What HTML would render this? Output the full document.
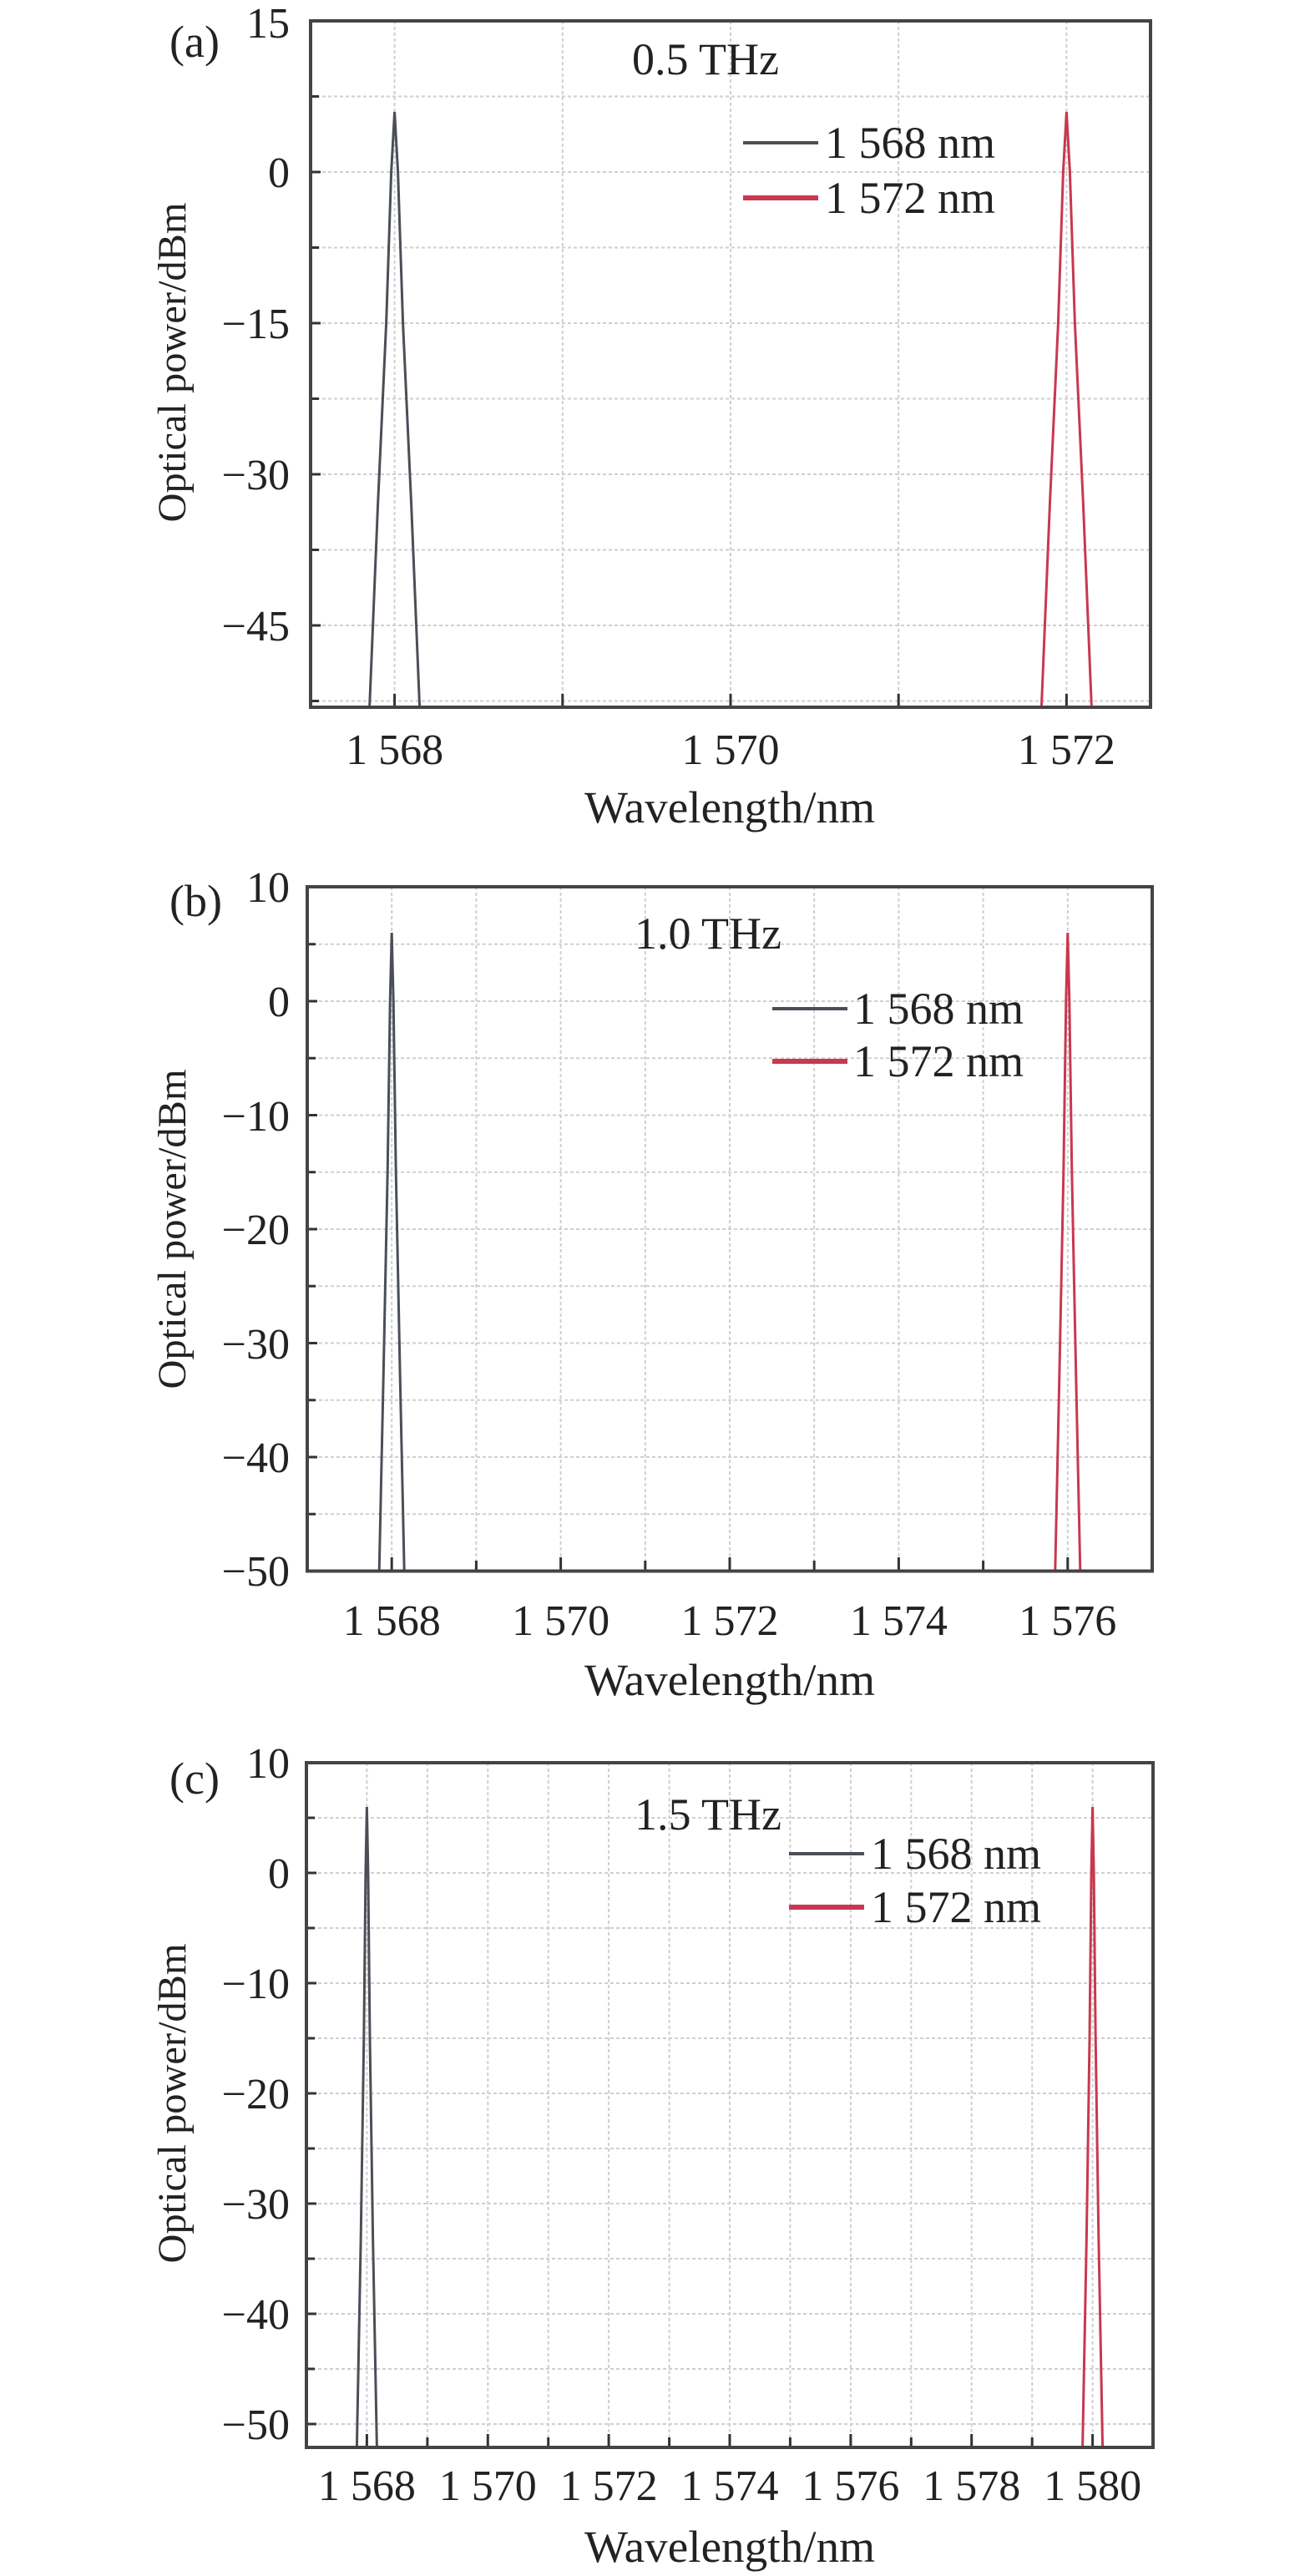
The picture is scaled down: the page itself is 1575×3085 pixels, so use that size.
<!DOCTYPE html>
<html><head><meta charset="utf-8"><style>html,body{margin:0;padding:0;background:#fff}svg{display:block}</style></head>
<body>
<svg width="1575" height="3085" viewBox="0 0 1575 3085" xmlns="http://www.w3.org/2000/svg" font-family="'Liberation Serif', serif" fill="#222">
<!-- ============ PANEL A ============ -->
<g stroke="#cfcfcf" stroke-width="2" stroke-dasharray="4 3" fill="none">
<path d="M472.6 25V847M673.8 25V847M875 25V847M1076.2 25V847M1277.4 25V847"/>
<path d="M372 115.5H1378M372 206H1378M372 296.5H1378M372 387H1378M372 477.5H1378M372 568H1378M372 658.5H1378M372 749H1378M372 839.5H1378"/>
</g>
<g stroke="#333" stroke-width="3" fill="none">
<path d="M472.6 847v-16M673.8 847v-16M875 847v-16M1076.2 847v-16M1277.4 847v-16"/>
<path d="M372 115.5h10M372 206h12M372 296.5h10M372 387h12M372 477.5h10M372 568h12M372 658.5h10M372 749h12M372 839.5h10"/>
</g>
<polyline fill="none" stroke="#4a4f57" stroke-width="3" points="442.6,847 452.6,604 462.6,387 468.6,206 472.6,134 476.6,206 482.6,387 492.6,604 502.6,847"/>
<polyline fill="none" stroke="#c8384f" stroke-width="3" points="1247.4,847 1257.4,604 1267.4,387 1273.4,206 1277.4,134 1281.4,206 1287.4,387 1297.4,604 1307.4,847"/>
<rect x="372" y="25" width="1006" height="822" fill="none" stroke="#444" stroke-width="4"/>
<line x1="890" y1="171" x2="980" y2="171" stroke="#4a4f57" stroke-width="4"/>
<line x1="890" y1="237" x2="980" y2="237" stroke="#c8384f" stroke-width="6"/>
<g font-size="54">
<text x="988" y="189">1 568 nm</text>
<text x="988" y="255">1 572 nm</text>
<text x="757" y="89">0.5 THz</text>
<text x="203" y="68">(a)</text>
</g>
<g font-size="52" text-anchor="end">
<text x="347" y="45">15</text>
<text x="347" y="224">0</text>
<text x="347" y="405">−15</text>
<text x="347" y="586">−30</text>
<text x="347" y="767">−45</text>
</g>
<g font-size="52" text-anchor="middle">
<text x="472.6" y="915">1 568</text>
<text x="875" y="915">1 570</text>
<text x="1277.4" y="915">1 572</text>
</g>
<text x="874" y="985" font-size="54" text-anchor="middle" textLength="348" lengthAdjust="spacingAndGlyphs">Wavelength/nm</text>
<text transform="translate(222,434) rotate(-90)" font-size="48" text-anchor="middle" textLength="383" lengthAdjust="spacingAndGlyphs">Optical power/dBm</text>

<!-- ============ PANEL B ============ -->
<g stroke="#cfcfcf" stroke-width="2" stroke-dasharray="4 3" fill="none">
<path d="M469.2 1062V1881M570.4 1062V1881M671.6 1062V1881M772.8 1062V1881M874 1062V1881M975.2 1062V1881M1076.4 1062V1881M1177.6 1062V1881M1278.8 1062V1881"/>
<path d="M368 1130.75H1380M368 1199H1380M368 1267.25H1380M368 1335.5H1380M368 1403.75H1380M368 1472H1380M368 1540.25H1380M368 1608.5H1380M368 1676.75H1380M368 1745H1380M368 1813.25H1380"/>
</g>
<g stroke="#333" stroke-width="3" fill="none">
<path d="M469.2 1881v-16M570.4 1881v-12M671.6 1881v-16M772.8 1881v-12M874 1881v-16M975.2 1881v-12M1076.4 1881v-16M1177.6 1881v-12M1278.8 1881v-16"/>
<path d="M368 1130.75h10M368 1199h12M368 1267.25h10M368 1335.5h12M368 1403.75h10M368 1472h12M368 1540.25h10M368 1608.5h12M368 1676.75h10M368 1745h12M368 1813.25h10"/>
</g>
<polyline fill="none" stroke="#4a4f57" stroke-width="3" points="454.2,1881.5 459.2,1649.5 464.2,1404 467.2,1199 469.2,1117 471.2,1199 474.2,1404 479.2,1649.5 484.2,1881.5"/>
<polyline fill="none" stroke="#c8384f" stroke-width="3" points="1263.8,1881.5 1268.8,1649.5 1273.8,1404 1276.8,1199 1278.8,1117 1280.8,1199 1283.8,1404 1288.8,1649.5 1293.8,1881.5"/>
<rect x="368" y="1062" width="1012" height="819.5" fill="none" stroke="#444" stroke-width="4"/>
<line x1="925" y1="1208" x2="1015" y2="1208" stroke="#4a4f57" stroke-width="4"/>
<line x1="925" y1="1271" x2="1015" y2="1271" stroke="#c8384f" stroke-width="6"/>
<g font-size="54">
<text x="1022" y="1226">1 568 nm</text>
<text x="1022" y="1289">1 572 nm</text>
<text x="760" y="1136">1.0 THz</text>
<text x="203" y="1097">(b)</text>
</g>
<g font-size="52" text-anchor="end">
<text x="347" y="1080">10</text>
<text x="347" y="1217">0</text>
<text x="347" y="1354">−10</text>
<text x="347" y="1490">−20</text>
<text x="347" y="1627">−30</text>
<text x="347" y="1763">−40</text>
<text x="347" y="1899">−50</text>
</g>
<g font-size="52" text-anchor="middle">
<text x="469.2" y="1958">1 568</text>
<text x="671.6" y="1958">1 570</text>
<text x="874" y="1958">1 572</text>
<text x="1076.4" y="1958">1 574</text>
<text x="1278.8" y="1958">1 576</text>
</g>
<text x="874" y="2030" font-size="54" text-anchor="middle" textLength="348" lengthAdjust="spacingAndGlyphs">Wavelength/nm</text>
<text transform="translate(222,1472) rotate(-90)" font-size="48" text-anchor="middle" textLength="383" lengthAdjust="spacingAndGlyphs">Optical power/dBm</text>

<!-- ============ PANEL C ============ -->
<g stroke="#cfcfcf" stroke-width="2" stroke-dasharray="4 3" fill="none">
<path d="M439.4 2111V2931M511.9 2111V2931M584.3 2111V2931M656.7 2111V2931M729.1 2111V2931M801.6 2111V2931M874 2111V2931M946.4 2111V2931M1018.9 2111V2931M1091.3 2111V2931M1163.7 2111V2931M1236.2 2111V2931M1308.6 2111V2931"/>
<path d="M367 2177H1381M367 2243H1381M367 2309H1381M367 2375H1381M367 2441H1381M367 2507H1381M367 2573H1381M367 2639H1381M367 2705H1381M367 2771H1381M367 2837H1381M367 2903H1381"/>
</g>
<g stroke="#333" stroke-width="3" fill="none">
<path d="M439.4 2931v-16M511.9 2931v-12M584.3 2931v-16M656.7 2931v-12M729.1 2931v-16M801.6 2931v-12M874 2931v-16M946.4 2931v-12M1018.9 2931v-16M1091.3 2931v-12M1163.7 2931v-16M1236.2 2931v-12M1308.6 2931v-16"/>
<path d="M367 2177h10M367 2243h12M367 2309h10M367 2375h12M367 2441h10M367 2507h12M367 2573h10M367 2639h12M367 2705h10M367 2771h12M367 2837h10M367 2903h12"/>
</g>
<polyline fill="none" stroke="#4a4f57" stroke-width="3" points="427.4,2931 432.2,2678.6 435.8,2441 437.9,2243 439.4,2164 440.9,2243 443,2441 446.6,2678.6 451.4,2931"/>
<polyline fill="none" stroke="#c8384f" stroke-width="3" points="1296.6,2931 1301.4,2678.6 1305,2441 1307.1,2243 1308.6,2164 1310.1,2243 1312.2,2441 1315.8,2678.6 1320.6,2931"/>
<rect x="367" y="2111" width="1014" height="820" fill="none" stroke="#444" stroke-width="4"/>
<line x1="945" y1="2220" x2="1035" y2="2220" stroke="#4a4f57" stroke-width="4"/>
<line x1="945" y1="2284" x2="1035" y2="2284" stroke="#c8384f" stroke-width="6"/>
<g font-size="54">
<text x="1043" y="2238">1 568 nm</text>
<text x="1043" y="2302">1 572 nm</text>
<text x="760" y="2191">1.5 THz</text>
<text x="203" y="2148">(c)</text>
</g>
<g font-size="52" text-anchor="end">
<text x="347" y="2129">10</text>
<text x="347" y="2261">0</text>
<text x="347" y="2393">−10</text>
<text x="347" y="2525">−20</text>
<text x="347" y="2657">−30</text>
<text x="347" y="2789">−40</text>
<text x="347" y="2921">−50</text>
</g>
<g font-size="52" text-anchor="middle">
<text x="439.4" y="2994">1 568</text>
<text x="584.3" y="2994">1 570</text>
<text x="729.1" y="2994">1 572</text>
<text x="874" y="2994">1 574</text>
<text x="1018.9" y="2994">1 576</text>
<text x="1163.7" y="2994">1 578</text>
<text x="1308.6" y="2994">1 580</text>
</g>
<text x="874" y="3068" font-size="54" text-anchor="middle" textLength="348" lengthAdjust="spacingAndGlyphs">Wavelength/nm</text>
<text transform="translate(222,2519) rotate(-90)" font-size="48" text-anchor="middle" textLength="383" lengthAdjust="spacingAndGlyphs">Optical power/dBm</text>
</svg>
</body></html>
